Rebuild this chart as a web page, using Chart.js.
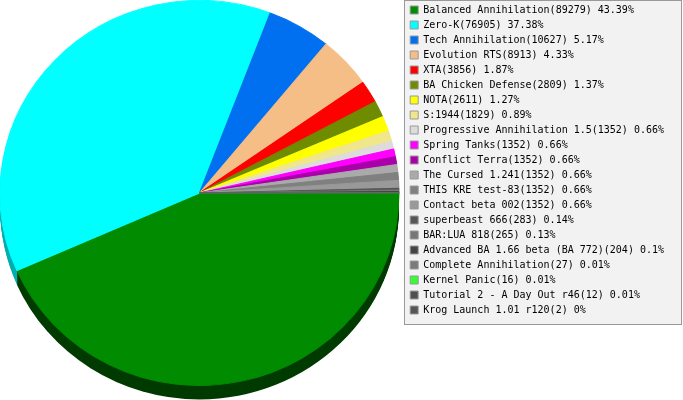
<!DOCTYPE html>
<html>
<head>
<meta charset="utf-8">
<script src="https://cdn.jsdelivr.net/npm/chart.js@4.4.0/dist/chart.umd.min.js"></script>
<style>
  html, body { margin: 0; padding: 0; background: #fff; }
</style>
</head>
<body>
<canvas id="pie" width="683" height="400"></canvas>
<script>
// Spielerzahlen pro Spiel
const games = [
    'Balanced Annihilation', 'Zero-K', 'Tech Annihilation', 'Evolution RTS', 'XTA',
    'BA Chicken Defense', 'NOTA', 'S:1944', 'Progressive Annihilation 1.5', 'Spring Tanks',
    'Conflict Terra', 'The Cursed 1.241', 'THIS KRE test-83', 'Contact beta 002',
    'superbeast 666', 'BAR:LUA 818', 'Advanced BA 1.66 beta (BA 772)', 'Complete Annihilation',
    'Kernel Panic', 'Tutorial 2 - A Day Out r46', 'Krog Launch 1.01 r120'
];
const counts = [
    89279, 76905, 10627, 8913, 3856,
    2809, 2611, 1829, 1352, 1352,
    1352, 1352, 1352, 1352,
    283, 265, 204, 27,
    16, 12, 2
];
const percents = [
    '43.39%', '37.38%', '5.17%', '4.33%', '1.87%',
    '1.37%', '1.27%', '0.89%', '0.66%', '0.66%',
    '0.66%', '0.66%', '0.66%', '0.66%',
    '0.14%', '0.13%', '0.1%', '0.01%',
    '0.01%', '0.01%', '0%'
];
const colors = [
    '#008b00', '#00ffff', '#0070f0', '#f5be87', '#ff0000',
    '#6f8b00', '#ffff00', '#f0e68c', '#dcdcdc', '#ff00ff',
    '#aa00aa', '#aaaaaa', '#808080', '#999999',
    '#555555', '#777777', '#444444', '#7a7a7a',
    '#33ff33', '#505050', '#555555'
];

const TILT = 0.965;  // Torte leicht gestaucht
const DEPTH = 14;    // Hoehe vom 3D-Rand

// Randfarbe: jeden Kanal etwas dunkler
function sideColor(hex) {
    const n = parseInt(hex.slice(1), 16);
    const ch = s => Math.max(0, ((n >> s) & 255) - 80);
    return `rgb(${ch(16)},${ch(8)},${ch(0)})`;
}

const depth3d = {
    id: 'depth3d',
    beforeDatasetsDraw(chart) {
        const ctx = chart.ctx;
        const arcs = chart.getDatasetMeta(0).data;
        const cx = arcs[0].x, cy = arcs[0].y;
        const r = arcs[0].outerRadius;
        ctx.save();
        // Torte links buendig im Chartbereich, breiter als hoch
        ctx.translate(chart.chartArea.left + r / TILT, 0);
        ctx.scale(1 / TILT, 1);
        ctx.translate(-cx, 0);
        for (let d = DEPTH; d > 0; d--) {
            arcs.forEach((arc, i) => {
                const p = arc.getProps(['startAngle', 'endAngle', 'outerRadius']);
                ctx.beginPath();
                ctx.moveTo(cx, cy + d);
                ctx.arc(cx, cy + d, p.outerRadius, p.startAngle, p.endAngle);
                ctx.closePath();
                ctx.fillStyle = sideColor(colors[i]);
                ctx.fill();
            });
        }
        // transform bleibt fuer die Oberseite, restore danach
    },
    afterDatasetsDraw(chart) {
        chart.ctx.restore();
    }
};

const legendBox = {
    id: 'legendBox',
    beforeDraw(chart) {
        const boxes = chart.legend.legendHitBoxes;
        if (!boxes.length) return;
        const first = boxes[0], last = boxes[boxes.length - 1];
        const ctx = chart.ctx;
        const left = Math.round(first.left) - 5.5;
        const top = 0.5;
        const right = chart.width - 1.5;
        const bottom = Math.round(last.top + last.height) + 9.5;
        ctx.save();
        ctx.fillStyle = '#f2f2f2';
        ctx.strokeStyle = '#999999';
        ctx.lineWidth = 1;
        ctx.fillRect(left, top, right - left, bottom - top);
        ctx.strokeRect(left, top, right - left, bottom - top);
        ctx.restore();
    }
};

const ctx = document.getElementById('pie').getContext('2d');

new Chart(ctx, {
    type: 'pie',
    data: {
        labels: games,
        datasets: [{
            data: counts,
            backgroundColor: colors,
            borderColor: colors,
            borderWidth: 1,
            clip: false
        }]
    },
    options: {
        responsive: false,
        animation: false,
        rotation: 90,
        layout: { padding: { right: 9, bottom: DEPTH } },
        plugins: {
            tooltip: { enabled: false },
            legend: {
                position: 'right',
                align: 'start',
                labels: {
                    boxWidth: 8,
                    boxHeight: 8,
                    padding: 5,
                    color: '#000',
                    font: { family: 'DejaVu Sans Mono', size: 10 },
                    generateLabels: () => games.map((g, i) => ({
                        text: `${g}(${counts[i]}) ${percents[i]}`,
                        fillStyle: colors[i],
                        strokeStyle: '#999999',
                        lineWidth: 1,
                        fontColor: '#000',
                        hidden: false,
                        index: i
                    }))
                }
            }
        }
    },
    plugins: [legendBox, depth3d]
});
</script>
</body>
</html>
